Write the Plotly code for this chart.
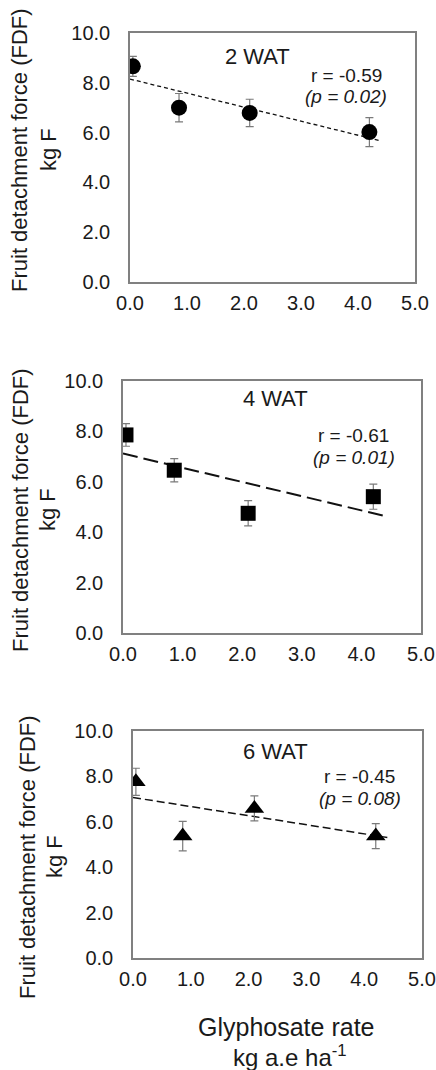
import plotly.graph_objects as go

# Data
rates = [0.05, 0.86, 2.1, 4.2]
fdf_2wat = [8.66, 7.0, 6.79, 6.02]
err_2wat = [0.4, 0.57, 0.55, 0.58]
fdf_4wat = [7.86, 6.46, 4.75, 5.41]
err_4wat = [0.45, 0.46, 0.5, 0.5]
fdf_6wat = [7.76, 5.37, 6.59, 5.37]
err_6wat = [0.6, 0.65, 0.55, 0.55]
trend_x = [0.0, 4.4]
trend_2wat = [8.15, 5.67]
trend_4wat = [7.12, 4.64]
trend_6wat = [7.07, 5.31]
panel_titles = ["2 WAT", "4 WAT", "6 WAT"]
r_labels = ["r = -0.59", "r = -0.61", "r = -0.45"]
p_labels = ["(p = 0.02)", "(p = 0.01)", "(p = 0.08)"]
x_ticks = [0, 1, 2, 3, 4, 5]
y_ticks = [0, 2, 4, 6, 8, 10]

W, H = 436, 1070
FONT = "Liberation Sans, Arial, sans-serif"
TXT = "#1a1a1a"

# panel boxes in pixels (left, right, top, bottom)
boxes = [(130, 415, 33, 282), (123, 421, 381, 633), (133, 422, 731, 958)]

fig = go.Figure()

series = [
    (fdf_2wat, err_2wat, trend_2wat, "circle", 16, dict(dash="4px,3px", width=1.3)),
    (fdf_4wat, err_4wat, trend_4wat, "square", 15, dict(dash="15px,6px", width=2.0)),
    (fdf_6wat, err_6wat, trend_6wat, "triangle-up", 17, dict(dash="8px,4px", width=1.5)),
]

for i, (vals, errs, trend, sym, msize, lstyle) in enumerate(series):
    xa = "x" if i == 0 else f"x{i+1}"
    ya = "y" if i == 0 else f"y{i+1}"
    fig.add_trace(go.Scatter(
        x=trend_x, y=trend, mode="lines", xaxis=xa, yaxis=ya,
        line=dict(color="#111111", **lstyle), showlegend=False, hoverinfo="skip"))
    fig.add_trace(go.Scatter(
        x=rates, y=vals, mode="markers", xaxis=xa, yaxis=ya,
        marker=dict(symbol=sym, size=msize, color="black"),
        error_y=dict(type="data", array=errs, color="#7a7a7a", thickness=1.2, width=4),
        showlegend=False))

layout = dict(
    template="none",
    width=W, height=H, margin=dict(l=0, r=0, t=0, b=0, autoexpand=False),
    paper_bgcolor="white", plot_bgcolor="white",
    font=dict(family=FONT, color=TXT),
    showlegend=False,
)

annotations = []
for i, (l, r, t, b) in enumerate(boxes):
    sx = "" if i == 0 else str(i + 1)
    layout[f"xaxis{sx}"] = dict(
        domain=[l / W, r / W], range=[0, 5], anchor=f"y{sx}", automargin=False,
        tickvals=x_ticks, tickformat=".1f", showgrid=False, zeroline=False,
        showline=True, mirror=True, linecolor="#808080", linewidth=1.5,
        ticks="", ticklabelstandoff=2,
        tickfont=dict(size=20, color=TXT, family=FONT))
    layout[f"yaxis{sx}"] = dict(
        domain=[1 - b / H, 1 - t / H], range=[0, 10], anchor=f"x{sx}", automargin=False,
        tickvals=y_ticks, tickformat=".1f", showgrid=False, zeroline=False,
        showline=True, mirror=True, linecolor="#808080", linewidth=1.5,
        ticks="", ticklabelstandoff=14,
        tickfont=dict(size=20, color=TXT, family=FONT))

# panel annotations: (title xy, r xy, p xy) in axis-domain coords
ann_pos = [
    ((0.446, 0.906), (0.758, 0.831), (0.758, 0.743)),
    ((0.513, 0.93), (0.774, 0.785), (0.776, 0.697)),
    ((0.493, 0.908), (0.783, 0.798), (0.786, 0.703)),
]
# y-title line centres in pixels: (line1 x, line2 x, y)
ylab_pos = [(19, 48, 150), (21, 48, 510), (28, 55, 857)]
for i in range(3):
    sx = "" if i == 0 else str(i + 1)
    (tx, ty), (rx, ry), (px, py) = ann_pos[i]
    common = dict(xref=f"x{sx} domain", yref=f"y{sx} domain", showarrow=False,
                  xanchor="center", yanchor="middle")
    annotations.append(dict(text=panel_titles[i], x=tx, y=ty,
                            font=dict(size=22, color=TXT, family=FONT), **common))
    annotations.append(dict(text=r_labels[i], x=rx, y=ry,
                            font=dict(size=19, color=TXT, family=FONT), **common))
    annotations.append(dict(text="<i>" + p_labels[i] + "</i>", x=px, y=py,
                            font=dict(size=19, color=TXT, family=FONT), **common))
    l1x, l2x, ly = ylab_pos[i]
    for txt, lx in (("Fruit detachment force (FDF)", l1x), ("kg F", l2x)):
        annotations.append(dict(text=txt, x=lx / W, y=1 - ly / H,
                                xref="paper", yref="paper", showarrow=False, textangle=-90,
                                xanchor="center", yanchor="middle",
                                font=dict(size=22, color=TXT, family=FONT)))

annotations.append(dict(text="Glyphosate rate", x=286 / W, y=1 - 1027 / H,
                        xref="paper", yref="paper", showarrow=False,
                        xanchor="center", yanchor="middle",
                        font=dict(size=25, color=TXT, family=FONT)))
annotations.append(dict(text="kg a.e ha<sup>-1</sup>", x=290 / W, y=1 - 1056 / H,
                        xref="paper", yref="paper", showarrow=False,
                        xanchor="center", yanchor="middle",
                        font=dict(size=24, color=TXT, family=FONT)))

layout["annotations"] = annotations
fig.update_layout(**layout)
fig.write_html("out.html", config={"displayModeBar": False},
               post_script="document.body.style.margin='0';")
